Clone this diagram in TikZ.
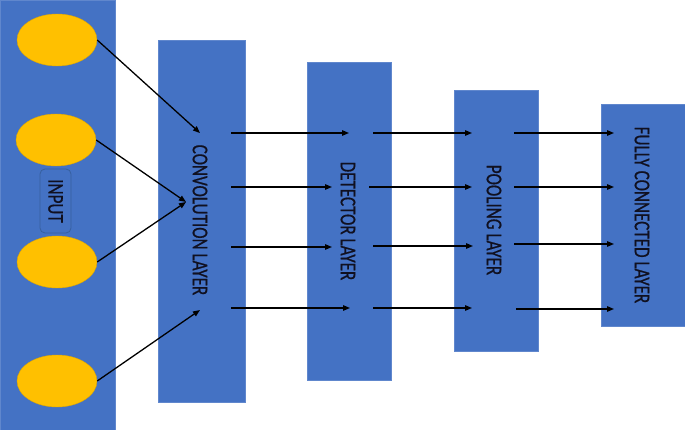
\documentclass[tikz,border=0pt]{standalone}
\usepackage{fontspec}
\usetikzlibrary{shapes.geometric,arrows.meta}
\newfontfamily\lblfont[FakeStretch=0.76,FakeBold=0.6]{Carlito}
\definecolor{layerblue}{HTML}{4472C4}
\definecolor{nodegold}{HTML}{FFC000}
\definecolor{edgegold}{HTML}{E0A800}
\definecolor{boxedge}{HTML}{37609F}
\definecolor{txt}{HTML}{101020}
\tikzset{
  layer/.style={rectangle, fill=layerblue, draw=layerblue!85!white, line width=0.5pt, inner sep=0pt},
  neuron/.style={ellipse, fill=nodegold, draw=edgegold, line width=0.4pt, minimum width=80pt, minimum height=52pt, inner sep=0pt},
  lbl/.style={rotate=-90, text=txt, font=\lblfont\fontsize{22.5}{25}\selectfont, inner sep=0pt},
  conn/.style={draw=black, line width=1.3pt, -{Triangle[length=7pt,width=5.5pt]}},
  inbox/.style={rectangle, rounded corners=5pt, fill=layerblue, draw=boxedge, line width=0.8pt, minimum width=31pt, minimum height=64pt, inner sep=0pt}
}
\begin{document}
\begin{tikzpicture}[x=1pt,y=-1pt]
\useasboundingbox (0,0) rectangle (685,430);
\fill[white] (0,0) rectangle (685,430);
% layers
\node[layer, minimum width=115pt, minimum height=430pt] (in) at (57.5,215) {};
\node[layer, minimum width=87pt, minimum height=362pt] (conv) at (201.5,221) {};
\node[layer, minimum width=84pt, minimum height=318pt] (det) at (349,221) {};
\node[layer, minimum width=84pt, minimum height=261pt] (pool) at (496,220.5) {};
\node[layer, minimum width=84pt, minimum height=222pt] (fc) at (643,215) {};
% input label
\node[inbox] (inlab) at (55.5,201) {};
\node[lbl] (intext) at (55.5,201) {INPUT};
% neurons
\node[neuron] (n1) at (57,40) {};
\node[neuron] (n2) at (56,140) {};
\node[neuron] (n3) at (57,262) {};
\node[neuron] (n4) at (57,381) {};
% layer labels
\node[lbl] (convtext) at (200,220) {CONVOLUTION LAYER};
\node[lbl] (dettext) at (348,221) {DETECTOR LAYER};
\node[lbl] (pooltext) at (494,220) {POOLING LAYER};
\node[lbl] (fctext) at (642,215) {FULLY CONNECTED LAYER};
% input connection targets
\coordinate (t1) at (200,133);
\coordinate (t2) at (186,202);
\coordinate (t4) at (200,310);
\draw[conn] (n1.east) -- (t1);
\draw[conn] (n2.east) -- (t2);
\draw[conn] (n3.east) -- (t2);
\draw[conn] (n4.east) -- (t4);
% conv -> det
\coordinate (a1) at (231,133); \coordinate (b1) at (349,133);
\coordinate (a2) at (231,187); \coordinate (b2) at (332,187);
\coordinate (a3) at (231,247); \coordinate (b3) at (332,247);
\coordinate (a4) at (231,308); \coordinate (b4) at (350,308);
\foreach \i in {1,2,3,4} \draw[conn] (a\i) -- (b\i);
% det -> pool
\coordinate (c1) at (373,133); \coordinate (d1) at (472,133);
\coordinate (c2) at (369,187); \coordinate (d2) at (472,187);
\coordinate (c3) at (373,246); \coordinate (d3) at (473,246);
\coordinate (c4) at (373,308); \coordinate (d4) at (472,308);
\foreach \i in {1,2,3,4} \draw[conn] (c\i) -- (d\i);
% pool -> fc
\coordinate (e1) at (514,133); \coordinate (f1) at (614,133);
\coordinate (e2) at (514,187); \coordinate (f2) at (614,187);
\coordinate (e3) at (514,244); \coordinate (f3) at (614,244);
\coordinate (e4) at (516,309); \coordinate (f4) at (614,309);
\foreach \i in {1,2,3,4} \draw[conn] (e\i) -- (f\i);
\end{tikzpicture}
\end{document}
